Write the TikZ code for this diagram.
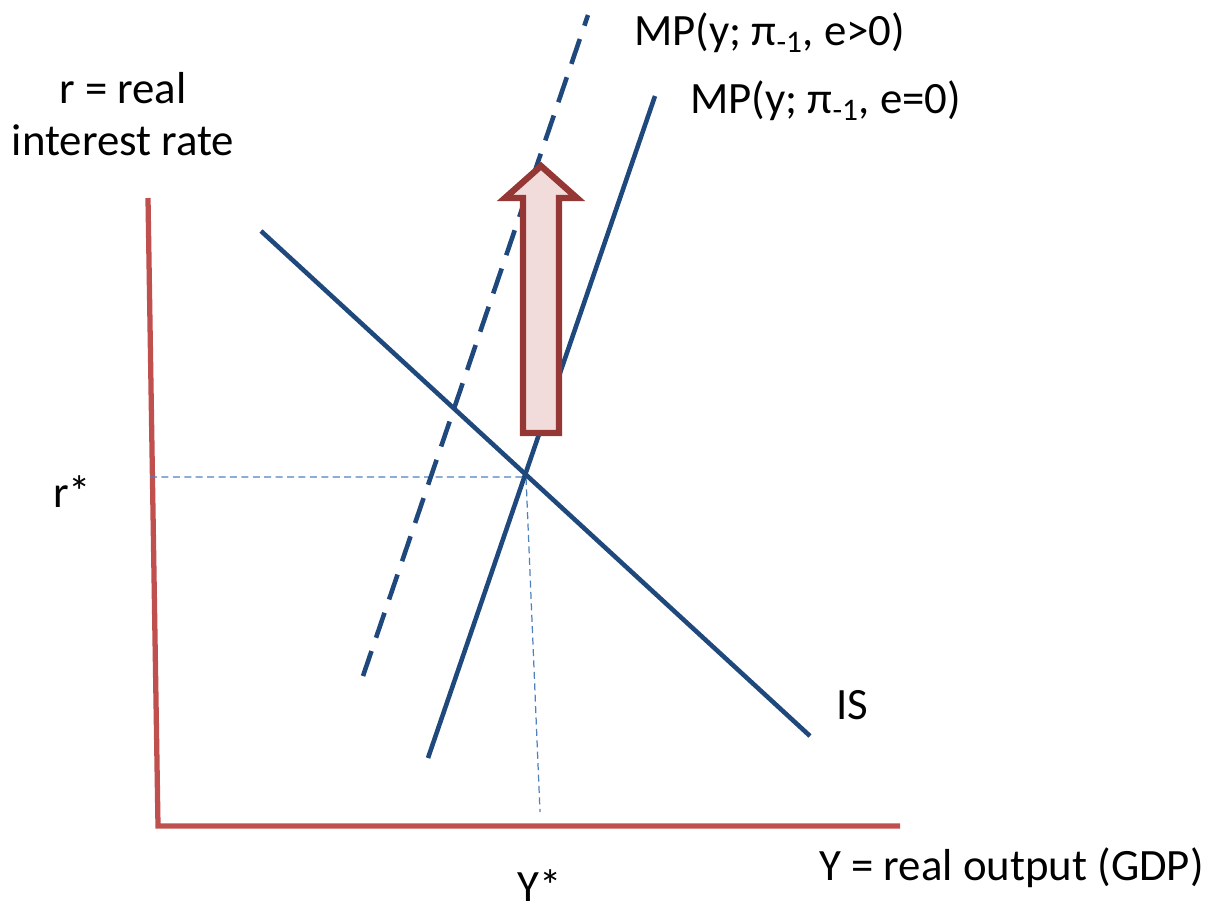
\documentclass[tikz,border=0pt]{standalone}
\usepackage{fontspec}
\setmainfont{Carlito}
\definecolor{axisred}{HTML}{C0504D}
\definecolor{curveblue}{HTML}{1F497D}
\definecolor{guideblue}{HTML}{4F81BD}
\definecolor{arrowred}{HTML}{953735}
\definecolor{arrowfill}{HTML}{F2DCDB}
\begin{document}
\begin{tikzpicture}[x=0.02cm,y=-0.02cm,
  lbl/.style={inner sep=0pt,font=\fontsize{25.5}{30}\selectfont},
  curve/.style={curveblue,line width=2.6pt},
  guide/.style={guideblue,line width=0.7pt,dash pattern=on 4pt off 2.5pt}]
\useasboundingbox (0,0) rectangle (1214,914);
% axes
\draw[axisred,line width=3pt] (148,198) -- (158,826) -- (900,826);
\node[lbl,align=center] at (123,114) {r = real\\interest rate};
\node[lbl] at (72,492) {r*};
\node[lbl] at (540,886) {Y*};
\node[lbl,anchor=east] at (1204,868) {Y = real output (GDP)};
% guides to the equilibrium
\coordinate (eq) at (526,477);
\draw[guide] (150,477) -- (eq) -- (540,812);
% curves
\draw[curve] (261,231) -- (810,736);
\node[lbl,anchor=west] at (836,705) {IS};
\draw[curve] (428,758) -- (655,96);
\node[lbl,anchor=west] at (690,101) {MP(y; π\textsubscript{-1}, e=0)};
\draw[curve,dash pattern=on 15pt off 8pt] (363,676) -- (588,15);
\node[lbl,anchor=west] at (634,33) {MP(y; π\textsubscript{-1}, e>0)};
% shift arrow
\filldraw[draw=arrowred,fill=arrowfill,line width=3.6pt,line join=miter]
  (523,433) -- (523,198) -- (505,198) -- (541,166) -- (577,198)
  -- (559,198) -- (559,433) -- cycle;
\end{tikzpicture}
\end{document}
